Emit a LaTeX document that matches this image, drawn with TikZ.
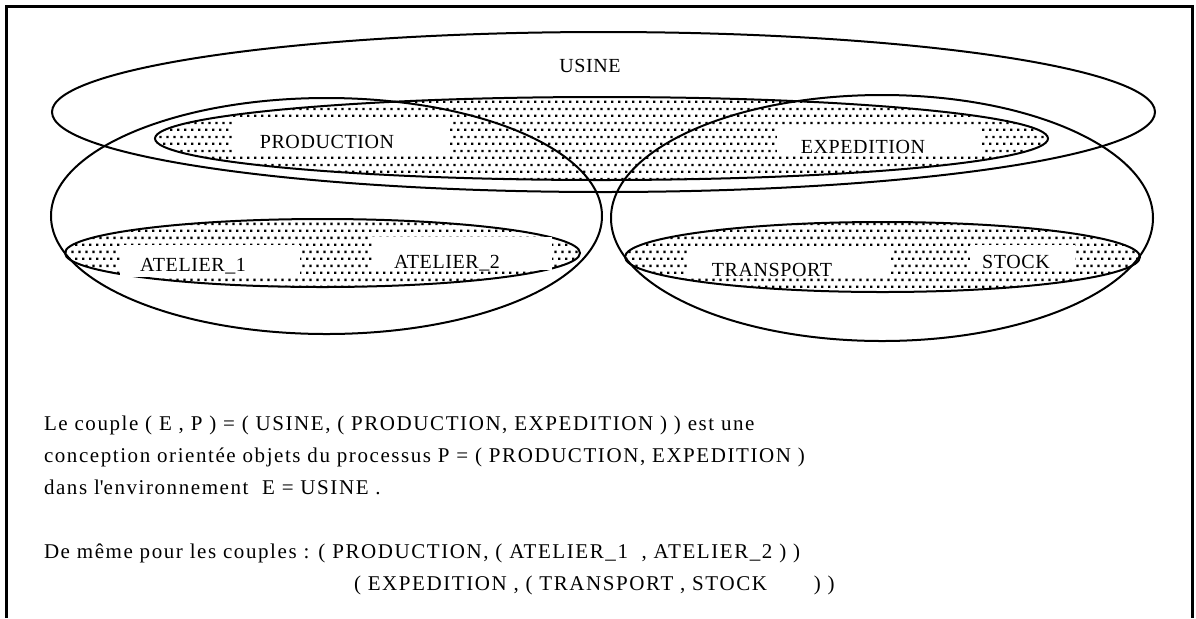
\documentclass[tikz,border=0pt]{standalone}
\usepackage{fontspec}
\setmainfont{Liberation Serif}
\newfontfamily\spacedfont[LetterSpace=7.5]{Liberation Serif}
\newfontfamily\labelfont[LetterSpace=3]{Liberation Serif}
\usetikzlibrary{patterns}

\pgfdeclarepatternformonly{dotfill}{\pgfpoint{0pt}{0pt}}{\pgfpoint{3.4pt}{7.2pt}}{\pgfpoint{3.4pt}{7.2pt}}{%
  \pgfpathrectangle{\pgfpoint{0pt}{0pt}}{\pgfpoint{1.2pt}{1.2pt}}%
  \pgfpathrectangle{\pgfpoint{1.7pt}{3.6pt}}{\pgfpoint{1.2pt}{1.2pt}}%
  \pgfusepath{fill}}

\begin{document}
\begin{tikzpicture}[x=0.5pt, y=-0.5pt, line width=1pt,
  every node/.style={inner sep=0pt, font=\labelfont\fontsize{10}{12}\selectfont},
  txt/.style={anchor=base west, font=\spacedfont\fontsize{10.5}{12}\selectfont},
  dotset/.style={pattern=dotfill, pattern color=black}]
\useasboundingbox (0,0) rectangle (1196,618);

% frame, open at the bottom
\draw[line width=1.5pt] (6,618) -- (6,6) -- (1192,6) -- (1192,618);

% dotted sets
\fill[dotset] (601.5,138.5) ellipse [x radius=446.5, y radius=41.5];
\fill[dotset] (322.5,253) ellipse [x radius=257.5, y radius=34];
\fill[dotset] (882.5,257) ellipse [x radius=257.5, y radius=35];

% outlines
\draw (603.5,112) ellipse [x radius=551.5, y radius=80];
\draw (601.5,138.5) ellipse [x radius=446.5, y radius=41.5];
\draw (326.5,216) ellipse [x radius=275.5, y radius=118];
\draw (882,218) ellipse [x radius=271, y radius=123];
\draw (322.5,253) ellipse [x radius=257.5, y radius=34];
\draw (882.5,257) ellipse [x radius=257.5, y radius=35];

% white boxes behind the labels
\fill[white] (232,118) rectangle (450,153);
\fill[white] (777,127) rectangle (982,155);
\fill[white] (120,245) rectangle (300,277);
\fill[white] (372,237) rectangle (552,270);
\fill[white] (687,247) rectangle (890,278);
\fill[white] (970,245) rectangle (1075,270);

% labels
\node[anchor=base] (usine) at (590,72) {USINE};
\node[anchor=base] (prod) at (327,148) {PRODUCTION};
\node[anchor=base] (exped) at (863,153) {EXPEDITION};
\node[anchor=base] (at1) at (193,271) {ATELIER\_1};
\node[anchor=base] (at2) at (447,268) {ATELIER\_2};
\node[anchor=base] (transp) at (772,276) {TRANSPORT};
\node[anchor=base] (stock) at (1016,268) {STOCK};

% text under the sets
\node[txt] (l1) at (43,430) {Le couple ( E , P ) = ( USINE, ( PRODUCTION, EXPEDITION ) ) est une};
\node[txt] (l2) at (43,462) {conception orientée objets du processus P = ( PRODUCTION, EXPEDITION )};
\node[txt] (l3) at (43,494) {dans l\textquotesingle environnement \ E = USINE .};
\node[txt] (l5) at (43,558) {De même pour les couples : ( PRODUCTION, ( ATELIER\_1 \ , ATELIER\_2 ) )};
\node[txt] (l6) at (353,590) {( EXPEDITION , ( TRANSPORT , STOCK\hspace{20pt} ) )};
\end{tikzpicture}
\end{document}
